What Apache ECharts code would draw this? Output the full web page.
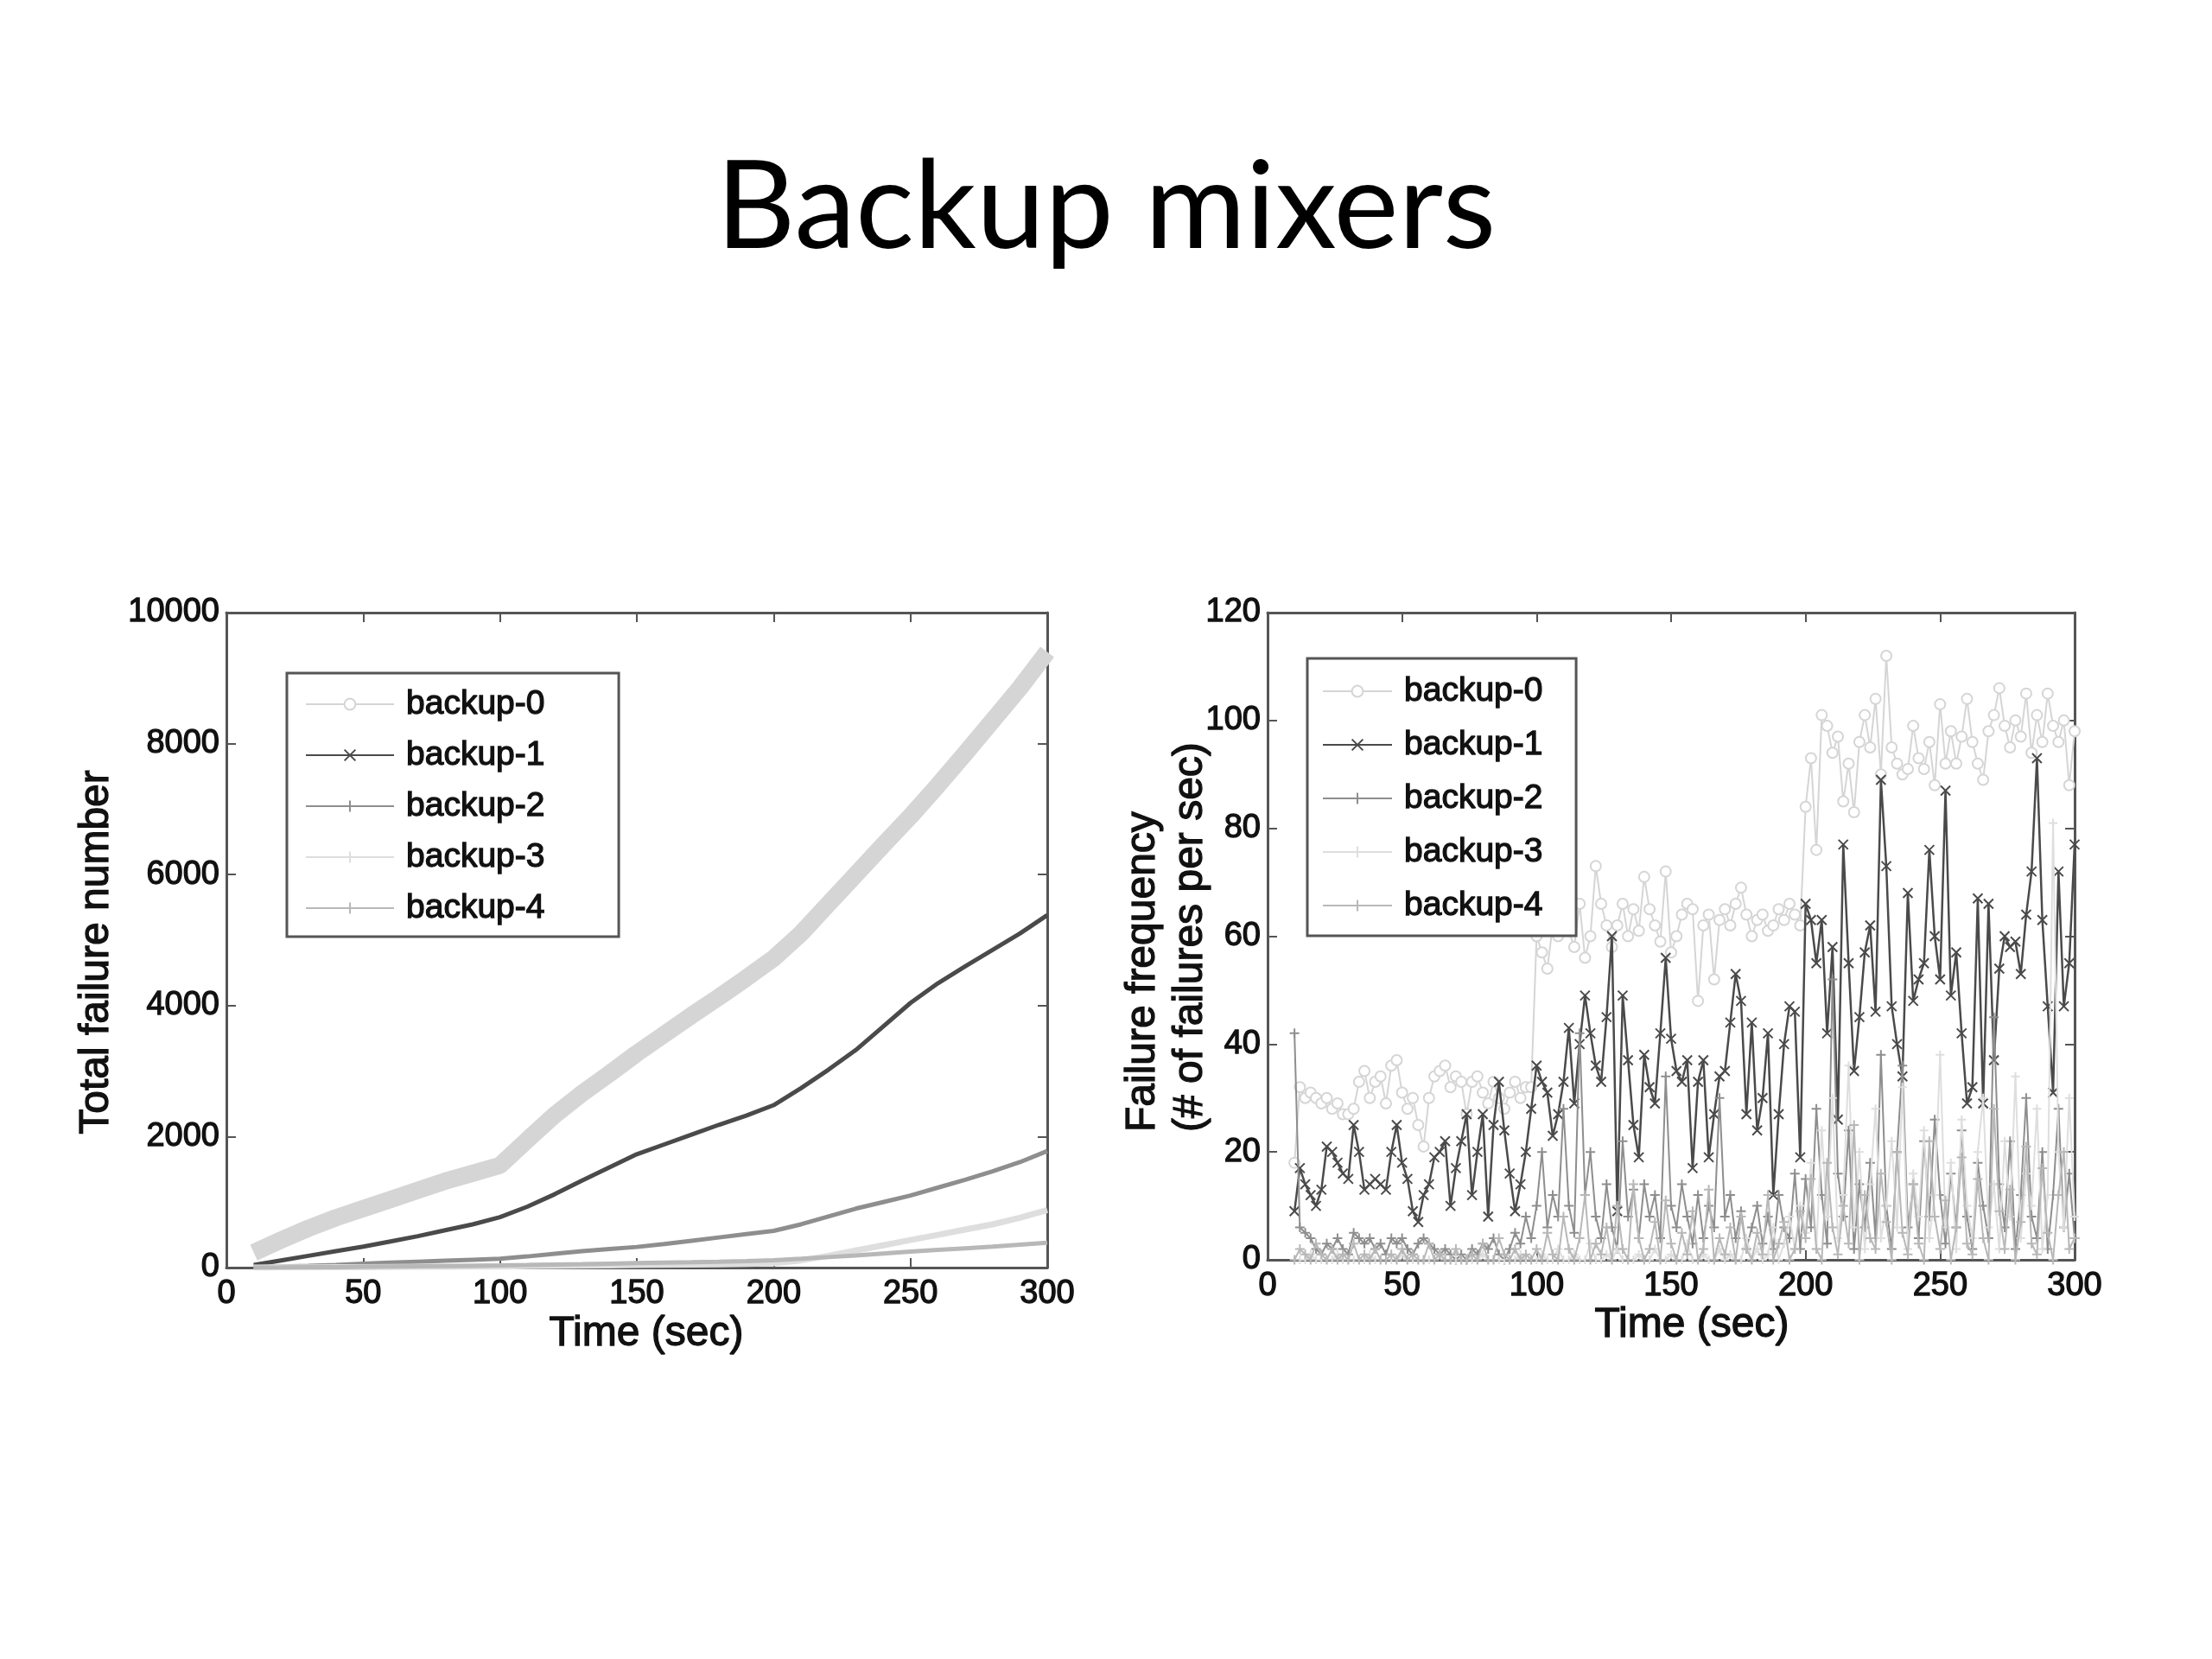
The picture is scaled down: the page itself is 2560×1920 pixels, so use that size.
<!DOCTYPE html>
<html>
<head>
<meta charset="utf-8">
<script src="https://cdn.jsdelivr.net/npm/echarts@6/dist/echarts.min.js"></script>
<style>
html,body{margin:0;padding:0;background:#fff;}
#chart{width:2560px;height:1920px;}
</style>
</head>
<body>
<div id="chart"></div>
<script>
// ---------- data ----------
var seriesNames = ['backup-0', 'backup-1', 'backup-2', 'backup-3', 'backup-4'];
var xTicks = [0, 50, 100, 150, 200, 250, 300];

// Left chart: cumulative failures, read every 10 s
var timeCum = [10,20,30,40,50,60,70,80,90,100,110,120,130,140,150,160,170,180,190,200,210,220,230,240,250,260,270,280,290,300];
var cum0 = [230,420,600,760,900,1040,1180,1320,1440,1560,1950,2330,2660,2960,3270,3560,3850,4130,4420,4720,5100,5550,6000,6450,6890,7360,7850,8350,8850,9400];
var cum1 = [40,110,180,250,320,400,480,570,660,770,930,1120,1330,1530,1730,1880,2030,2180,2320,2480,2740,3020,3320,3680,4040,4340,4600,4850,5100,5380];
var cum2 = [5,15,25,40,60,75,90,105,120,135,170,210,250,285,315,360,410,460,510,560,660,780,900,1000,1100,1220,1340,1470,1610,1780];
var cum3 = [0,2,4,6,8,10,12,14,16,18,22,26,30,34,38,42,46,50,55,65,110,180,260,340,420,500,580,660,760,880];
var cum4 = [0,2,5,8,12,16,20,24,28,32,38,45,52,60,68,75,82,90,100,112,135,160,185,215,245,270,295,320,350,380];

// Right chart: failure frequency, read every 2 s
var timeFreq = [10,12,14,16,18,20,22,24,26,28,30,32,34,36,38,40,42,44,46,48,50,52,54,56,58,60,62,64,66,68,70,72,74,76,78,80,82,84,86,88,90,92,94,96,98,
100,102,104,106,108,110,112,114,116,118,120,122,124,126,128,130,132,134,136,138,140,142,144,146,148,150,152,154,156,158,160,162,164,166,168,170,172,174,176,178,180,182,184,186,188,190,192,194,196,198,
200,202,204,206,208,210,212,214,216,218,220,222,224,226,228,230,232,234,236,238,240,242,244,246,248,250,252,254,256,258,260,262,264,266,268,270,272,274,276,278,280,282,284,286,288,290,292,294,296,298,300];
var freq0 = [18,32,30,31,30,29,30,28,29,27,27,28,33,35,30,33,34,29,36,37,31,28,30,25,21,30,34,35,36,32,34,33,27,33,34,31,29,33,30,28,31,33,30,32,32,
60,57,54,62,60,64,61,58,66,56,60,73,66,62,58,62,66,60,65,61,71,65,62,59,72,57,60,64,66,65,48,62,64,52,63,65,62,66,69,64,60,63,64,61,62,65,63,66,64,62,
84,93,76,101,99,94,97,85,92,83,96,101,95,104,90,112,95,92,90,91,99,93,91,96,88,103,92,98,92,97,104,96,92,89,98,101,106,99,95,100,97,105,94,101,96,105,99,96,100,88,98];
var freq1 = [9,17,14,12,10,13,21,20,18,16,15,25,20,13,14,15,14,13,20,25,18,15,9,7,12,14,19,20,22,10,17,22,27,12,20,27,8,25,33,24,16,9,14,20,28,
36,33,31,23,27,33,43,29,40,49,42,36,33,45,60,9,49,37,25,19,38,32,29,42,56,41,35,33,37,17,33,37,19,27,34,35,44,53,48,27,44,24,30,42,12,27,40,47,46,19,
66,63,55,63,42,58,26,77,55,35,45,57,62,46,89,73,47,40,34,68,48,52,55,76,60,52,87,49,57,42,29,32,67,29,66,37,54,60,58,59,53,64,72,93,63,47,31,72,47,55,77];
var freq2 = [42,6,5,4,2,1,3,2,4,2,1,5,4,3,4,2,3,1,4,3,4,2,1,3,4,3,2,1,2,1,0,1,0,2,1,3,2,4,1,0,2,5,3,8,4,
10,20,6,12,8,28,10,5,42,12,20,8,4,14,6,2,22,8,13,4,14,8,12,4,34,10,6,14,8,3,12,4,10,6,30,8,12,4,9,2,6,10,3,8,2,12,6,4,16,2,
15,6,28,12,3,52,16,8,24,2,14,6,18,4,38,10,2,20,36,6,14,4,22,8,26,12,3,16,6,24,8,2,18,10,4,45,14,6,22,2,12,30,8,4,20,2,12,28,6,16,4];
var freq3 = [0,0,0,1,0,0,0,0,1,0,0,0,0,0,1,0,0,0,0,0,1,0,0,0,0,0,0,1,0,0,0,0,0,0,0,1,0,0,0,0,0,0,1,0,0,
0,1,0,0,2,0,0,1,0,0,3,0,0,1,0,2,0,0,0,1,0,0,2,0,0,1,0,0,3,0,0,1,0,0,2,0,1,0,0,4,0,2,0,1,6,0,3,8,2,10,
5,18,2,24,8,30,4,12,36,6,20,2,14,28,4,10,22,6,32,2,16,8,24,4,12,38,6,18,2,26,10,4,20,30,6,14,2,22,8,34,4,16,10,28,2,12,81,20,6,30,8];
var freq4 = [0,2,1,0,3,1,0,2,0,1,0,3,0,1,0,2,0,0,1,0,2,0,1,0,0,3,0,1,0,0,2,0,0,1,0,3,0,0,4,1,0,2,0,1,0,
2,0,5,1,0,8,2,0,4,12,0,3,1,6,0,10,2,0,14,4,0,2,7,0,11,3,0,5,1,9,0,2,13,0,4,1,6,0,8,2,0,5,1,12,0,3,7,0,2,9,
4,15,2,0,18,6,1,10,3,25,0,12,4,2,16,7,0,20,5,1,14,3,0,22,8,2,11,0,6,19,3,1,15,4,0,28,9,2,13,0,7,21,3,1,17,5,0,12,20,2,4];

// ---------- styles ----------
var colors = ['#d5d5d5', '#4a4a4a', '#8e8e8e', '#dedede', '#b8b8b8'];
var SYM_X = 'path://M0,0L10,10M10,0L0,10';
var SYM_PLUS = 'path://M5,0L5,10M0,5L10,5';
var symbols = ['emptyCircle', SYM_X, SYM_PLUS, SYM_PLUS, SYM_PLUS];

function pairs(t, v) { return t.map(function (x, i) { return [x, v[i]]; }); }

var frame = '#555';
var fontAxis = 'Liberation Sans, Arial, sans-serif';
var textInk = '#111';

function xAx(grid, pos, showLabel) {
  return {
    type: 'value', gridIndex: grid, position: pos, min: 0, max: 300, interval: 50,
    axisLine: { show: true, onZero: false, lineStyle: { color: frame, width: 3 } },
    axisTick: { show: true, inside: true, length: 11, lineStyle: { color: frame, width: 2 } },
    axisLabel: { show: showLabel, fontSize: 38, color: textInk, margin: 12, fontFamily: fontAxis,
      textBorderColor: textInk, textBorderWidth: 1.3, formatter: function (v) { return String(v); } },
    splitLine: { show: false }
  };
}
function yAx(grid, pos, showLabel, max, interval) {
  return {
    type: 'value', gridIndex: grid, position: pos, min: 0, max: max, interval: interval,
    axisLine: { show: true, onZero: false, lineStyle: { color: frame, width: 3 } },
    axisTick: { show: true, inside: true, length: 11, lineStyle: { color: frame, width: 2 } },
    axisLabel: { show: showLabel, fontSize: 38, color: textInk, margin: 8, fontFamily: fontAxis,
      textBorderColor: textInk, textBorderWidth: 1.3, formatter: function (v) { return String(v); } },
    splitLine: { show: false }
  };
}

var cumData = [cum0, cum1, cum2, cum3, cum4];
var cumWidths = [20, 5, 5, 7, 5];
var freqData = [freq0, freq1, freq2, freq3, freq4];
var freqSizes = [12, 11, 11, 10, 11];
var freqWidths = [2, 2.5, 2, 2, 2];

var series = [];
cumData.forEach(function (d, i) {
  series.push({
    name: seriesNames[i], type: 'line', xAxisIndex: 0, yAxisIndex: 0,
    data: pairs(timeCum, d), showSymbol: false, symbol: symbols[i], symbolSize: 12,
    lineStyle: { color: colors[i], width: cumWidths[i] },
    itemStyle: { color: colors[i], borderColor: colors[i], borderWidth: 2 },
    emphasis: { disabled: true }, animation: false, z: 2 + i
  });
});
freqData.forEach(function (d, i) {
  series.push({
    name: seriesNames[i], type: 'line', xAxisIndex: 2, yAxisIndex: 2,
    data: pairs(timeFreq, d), showSymbol: true, symbol: symbols[i], symbolSize: freqSizes[i],
    lineStyle: { color: colors[i], width: freqWidths[i] },
    itemStyle: { color: colors[i], borderColor: colors[i], borderWidth: 2 },
    emphasis: { disabled: true }, animation: false, z: 2 + i
  });
});

function legendCfg(left, top, itemWidth, gap, pad) {
  return {
    orient: 'vertical', left: left, top: top, data: seriesNames,
    itemWidth: itemWidth, itemHeight: 16, itemGap: gap,
    padding: pad, borderColor: frame, borderWidth: 3, backgroundColor: '#fff',
    lineStyle: { width: 2 },
    selectedMode: false,
    textStyle: { fontSize: 39, color: textInk, fontFamily: fontAxis, lineHeight: 42, padding: [0, 0, 0, 9],
      textBorderColor: textInk, textBorderWidth: 1.3 }
  };
}

var titleStyle = { fontSize: 48, fontFamily: fontAxis, fill: textInk, stroke: textInk, lineWidth: 1.3 };
function txt(x, y, text, rot, align) {
  return { type: 'text', x: x, y: y, rotation: rot || 0,
    style: Object.assign({ text: text, align: align || 'center', verticalAlign: 'middle' }, titleStyle) };
}

var option = {
  backgroundColor: '#fff',
  animation: false,
  grid: [
    { left: 262, top: 709, width: 950, height: 758, containLabel: false },
    { left: 1467, top: 709, width: 934, height: 749, containLabel: false }
  ],
  xAxis: [xAx(0, 'bottom', true), xAx(0, 'top', false), xAx(1, 'bottom', true), xAx(1, 'top', false)],
  yAxis: [yAx(0, 'left', true, 10000, 2000), yAx(0, 'right', false, 10000, 2000), yAx(1, 'left', true, 120, 20), yAx(1, 'right', false, 120, 20)],
  legend: [
    legendCfg(332, 779, 102, 17, [15, 85, 12, 21]),
    legendCfg(1513, 762, 80, 20, [17, 38, 14, 17])
  ],
  series: series,
  graphic: [
    { type: 'text', x: 1280, y: 241, style: { text: 'Backup mixers', fontSize: 142, fontFamily: 'Lato, Carlito, sans-serif', fill: '#000', align: 'center', verticalAlign: 'middle' } },
    txt(748, 1544, 'Time (sec)'),
    txt(1958, 1534, 'Time (sec)'),
    txt(112, 1102, 'Total failure number', Math.PI / 2),
    txt(1323, 1310, 'Failure frequency', Math.PI / 2, 'left'),
    txt(1378, 1310, '(# of failures per sec)', Math.PI / 2, 'left')
  ]
};

var chart = echarts.init(document.getElementById('chart'), null, { renderer: 'canvas' });
chart.setOption(option);
</script>
</body>
</html>
